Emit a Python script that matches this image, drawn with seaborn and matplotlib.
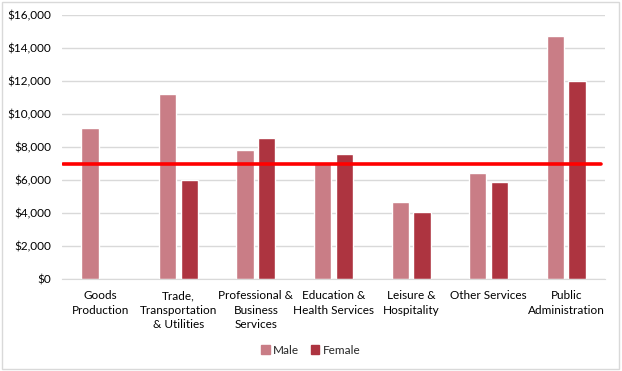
import pandas as pd
import matplotlib.pyplot as plt
import matplotlib.patches as mpatches
import seaborn as sns
from matplotlib.ticker import FuncFormatter

sns.set_style("white")
plt.rcParams["font.family"] = ["Lato", "DejaVu Sans"]

# ================================
# DATA
# ================================

industries = [
    "Goods\nProduction",
    "Trade,\nTransportation\n& Utilities",
    "Professional &\nBusiness\nServices",
    "Education &\nHealth Services",
    "Leisure &\nHospitality",
    "Other Services",
    "Public\nAdministration",
]
male = [9150, 11200, 7800, 7050, 4650, 6450, 14700]
female = [None, 5980, 8520, 7550, 4080, 5900, 11980]
reference_level = 7000

male_color = "#C97D86"
female_color = "#AD3440"

df = pd.DataFrame({
    "industry": industries * 2,
    "sex": ["Male"] * len(industries) + ["Female"] * len(industries),
    "value": male + female,
})

# ================================
# PLOT
# ================================

fig = plt.figure(figsize=(6.22, 3.71), dpi=100)
ax = fig.add_axes([62 / 622, 1 - 279 / 371, 543 / 622, 264 / 371])

sns.barplot(
    data=df, x="industry", y="value", hue="sex",
    palette={"Male": male_color, "Female": female_color},
    width=0.56, gap=0.2, saturation=1, ax=ax, legend=False,
)

ax.axhline(reference_level, xmin=0.002, xmax=0.992, color="#FF0000", lw=2.6, zorder=5)

ax.set_ylim(0, 16000)
ax.set_yticks(range(0, 16001, 2000))
ax.yaxis.set_major_formatter(FuncFormatter(lambda v, p: f"${v:,.0f}"))
ax.grid(axis="y", color="#D9D9D9", lw=1)
ax.set_axisbelow(True)
for s in ["top", "right", "left"]:
    ax.spines[s].set_visible(False)
ax.spines["bottom"].set_color("#D9D9D9")
ax.tick_params(axis="both", length=0, labelsize=8.5, colors="#000000")
ax.tick_params(axis="x", pad=8)
ax.tick_params(axis="y", pad=8)
for lbl in ax.get_xticklabels():
    lbl.set_linespacing(1.4)
ax.set_xlabel("")
ax.set_ylabel("")

handles = [
    mpatches.Patch(color=male_color, label="Male"),
    mpatches.Patch(color=female_color, label="Female"),
]
fig.legend(
    handles=handles, loc="center", bbox_to_anchor=(0.5, 1 - 350 / 371),
    ncol=2, frameon=False, fontsize=8.5, handlelength=0.7, handleheight=0.7,
    handletextpad=0.3, columnspacing=1.0,
)

fig.add_artist(mpatches.Rectangle(
    (2 / 622, 2 / 371), 617 / 622, 367 / 371, transform=fig.transFigure,
    fill=False, edgecolor="#D9D9D9", lw=1,
))

fig.savefig("out.png", dpi=100)
